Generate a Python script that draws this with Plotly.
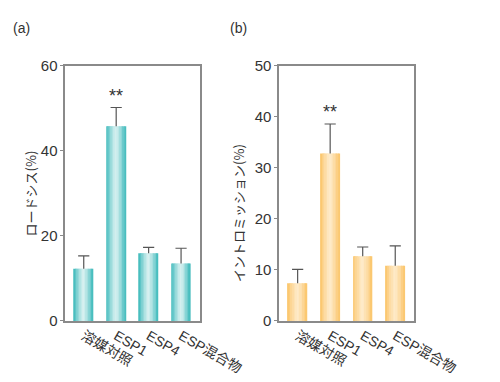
import plotly.graph_objects as go

categories = ["溶媒対照", "ESP1", "ESP4", "ESP混合物"]
lordosis = [12.3, 45.8, 15.9, 13.5]
lordosis_err = [3.0, 4.4, 1.4, 3.6]
intromission = [7.4, 32.8, 12.7, 10.8]
intromission_err = [2.7, 5.8, 1.8, 3.9]
yticks_a = [0, 20, 40, 60]
yticks_b = [0, 10, 20, 30, 40, 50]

W, H = 500, 382
FONT = "Liberation Sans, Noto Sans CJK JP, sans-serif"

fig = go.Figure()

def lerp(c1, c2, t):
    return "rgb(%d,%d,%d)" % tuple(round(a + (b - a) * t) for a, b in zip(c1, c2))

def add_gradient_bars(xref, yref, vals, edge, center):
    w = 0.59
    n = 13
    s = w / n
    for k in range(n):
        pos = (k + 0.5) / n
        t = abs(pos - 0.5) / 0.5
        col = lerp(center, edge, t ** 1.3)
        fig.add_trace(go.Bar(
            x=categories, y=vals, xaxis=xref, yaxis=yref,
            width=s * (1.35 if k < n - 1 else 1.0),
            offset=-w / 2 + k * s,
            marker=dict(color=col, line=dict(width=0)),
            hoverinfo="skip", showlegend=False,
        ))

def add_errors(xref, yref, vals, errs):
    tops = [v + e for v, e in zip(vals, errs)]
    fig.add_trace(go.Scatter(
        x=categories, y=tops, xaxis=xref, yaxis=yref, mode="markers",
        marker=dict(symbol="line-ew", size=8, color="#555",
                    line=dict(width=1.2, color="#555")),
        error_y=dict(type="data", symmetric=False, array=[0] * len(errs),
                     arrayminus=errs, width=0, thickness=1.2, color="#555"),
        hoverinfo="skip", showlegend=False,
    ))
    return tops

add_gradient_bars("x", "y", lordosis, (58, 184, 186), (214, 240, 240))
tops_a = add_errors("x", "y", lordosis, lordosis_err)
add_gradient_bars("x2", "y2", intromission, (251, 196, 104), (254, 234, 200))
tops_b = add_errors("x2", "y2", intromission, intromission_err)

axis_common = dict(showline=True, mirror=True, linecolor="#8a8a8a", linewidth=1.5,
                   showgrid=False, zeroline=False)
xcommon = dict(axis_common, type="category", range=[-0.57, 3.57], ticks="",
               tickangle=30, tickfont=dict(family=FONT, size=14, color="#333"))

top_y = 1 - 59.5 / H
bot_y = 1 - 326.5 / H

fig.update_layout(
    width=W, height=H,
    margin=dict(l=0, r=0, t=0, b=0),
    paper_bgcolor="white", plot_bgcolor="white",
    barmode="overlay",
    font=dict(family=FONT, color="#333"),
    xaxis=dict(xcommon, domain=[71.7 / W, 219.3 / W], anchor="y"),
    yaxis=dict(axis_common, domain=[bot_y, top_y], range=[0, 60], anchor="x",
               tickvals=yticks_a, ticks="outside", ticklen=3, tickcolor="#8a8a8a",
               tickfont=dict(family=FONT, size=15, color="#333")),
    xaxis2=dict(xcommon, domain=[306.7 / W, 454.7 / W], anchor="y2"),
    yaxis2=dict(axis_common, domain=[bot_y, top_y], range=[0, 50], anchor="x2",
                tickvals=yticks_b, ticks="outside", ticklen=3, tickcolor="#8a8a8a",
                tickfont=dict(family=FONT, size=15, color="#333")),
)

ann = [
    dict(text="(a)", x=12 / W, y=1 - 20 / H, xref="paper", yref="paper",
         xanchor="left", yanchor="middle", showarrow=False,
         font=dict(size=14, family=FONT, color="#333")),
    dict(text="(b)", x=250 / W, y=1 - 20 / H, xref="paper", yref="paper",
         xanchor="left", yanchor="middle", showarrow=False,
         font=dict(size=14, family=FONT, color="#333")),
    dict(text="ロードシス(%)", x=33 / W, y=1 - 193 / H, xref="paper", yref="paper",
         xanchor="center", yanchor="middle",
         textangle=-90, showarrow=False,
         font=dict(size=13, family="Noto Sans CJK JP", color="#333")),
    dict(text="イントロミッション(%)", x=262 / W, y=1 - 213 / H, xref="paper", yref="paper",
         xanchor="center", yanchor="middle",
         textangle=-90, showarrow=False,
         font=dict(size=13, family="Noto Sans CJK JP", color="#333")),
    dict(text="**", x=categories[1], y=tops_a[1], xref="x", yref="y",
         yanchor="bottom", yshift=0, showarrow=False,
         font=dict(size=18, family=FONT, color="#333")),
    dict(text="**", x=categories[1], y=tops_b[1], xref="x2", yref="y2",
         yanchor="bottom", yshift=0, showarrow=False,
         font=dict(size=18, family=FONT, color="#333")),
]
fig.update_layout(annotations=ann)

# remove the default 8px page margin so the figure sits at the window origin
fix = "document.body.style.margin='0'; document.body.style.overflow='hidden';"
fig.write_html("out.html", post_script=fix, config={"displayModeBar": False})
